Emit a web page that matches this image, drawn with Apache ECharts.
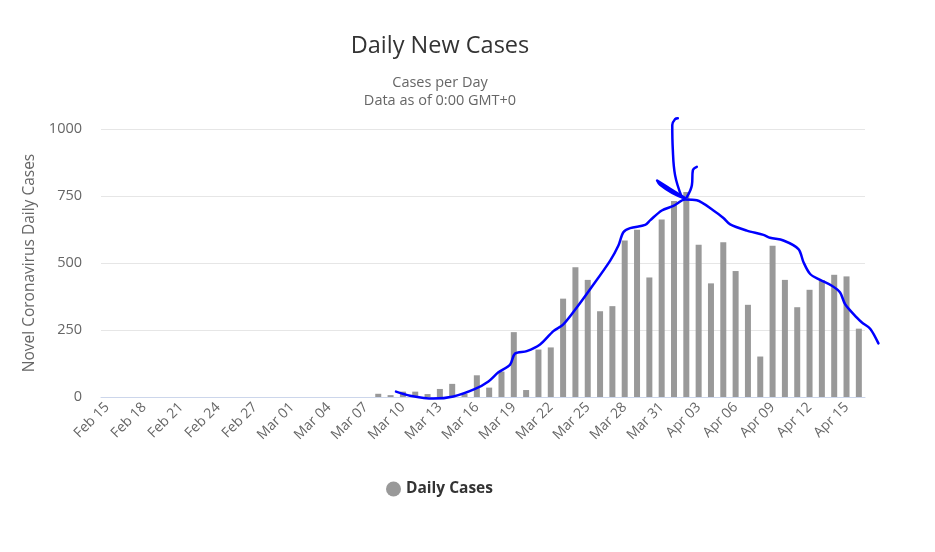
<!DOCTYPE html>
<html>
<head>
<meta charset="utf-8">
<script src="https://cdn.jsdelivr.net/npm/echarts@6/dist/echarts.min.js"></script>
<style>
  html, body { margin: 0; padding: 0; background: #fff; }
  #chart { width: 935px; height: 552px; }
</style>
</head>
<body>
<div id="chart"></div>
<script>
// days Feb 15 .. Apr 16
const days = [
  'Feb 15','Feb 16','Feb 17','Feb 18','Feb 19','Feb 20','Feb 21','Feb 22','Feb 23','Feb 24',
  'Feb 25','Feb 26','Feb 27','Feb 28','Feb 29','Mar 01','Mar 02','Mar 03','Mar 04','Mar 05',
  'Mar 06','Mar 07','Mar 08','Mar 09','Mar 10','Mar 11','Mar 12','Mar 13','Mar 14','Mar 15',
  'Mar 16','Mar 17','Mar 18','Mar 19','Mar 20','Mar 21','Mar 22','Mar 23','Mar 24','Mar 25',
  'Mar 26','Mar 27','Mar 28','Mar 29','Mar 30','Mar 31','Apr 01','Apr 02','Apr 03','Apr 04',
  'Apr 05','Apr 06','Apr 07','Apr 08','Apr 09','Apr 10','Apr 11','Apr 12','Apr 13','Apr 14',
  'Apr 15','Apr 16'
];
const dailyCases = [
  0, 0, 0, 0, 0, 0, 0, 0, 0, 0,
  0, 0, 0, 0, 0, 0, 0, 0, 0, 0,
  0, 0, 12, 7, 20, 20, 11, 30, 49, 12,
  81, 35, 95, 242, 26, 177, 185, 367, 484, 437,
  320, 339, 584, 624, 446, 662, 731, 765, 568, 424,
  577, 470, 344, 151, 564, 437, 335, 400, 436, 456,
  450, 255
];
const yTicks = [0, 250, 500, 750, 1000];

// hand drawn blue pen strokes, [day index, cases]
const penTrend = [
  [23.44, 20], [24.58, 5], [26.47, -6], [28.10, 2], [29.86, 30], [30.94, 58],
  [31.75, 92], [32.70, 121], [33.10, 162], [34.05, 171], [35.13, 196], [36.21, 246],
  [37.02, 271], [38.11, 334], [39.19, 402], [40.81, 508], [41.49, 565], [41.89, 615],
  [42.44, 630], [43.66, 642], [44.06, 659], [45.01, 696], [45.95, 713], [46.90, 737],
  [47.85, 734], [49.20, 696], [50.01, 668], [50.56, 644], [51.91, 621], [53.26, 605],
  [53.80, 594], [54.88, 584], [56.10, 552], [56.51, 503], [57.05, 459], [57.86, 437],
  [58.81, 415], [59.48, 390], [59.89, 346], [60.84, 296], [61.25, 278], [61.92, 255],
  [62.59, 200]
];
const penLoop = [
  [46.90, 742], [45.69, 777], [44.63, 808], [44.87, 792], [45.85, 762], [46.90, 740]
];
const penUp = [
  [46.63, 746], [46.09, 827], [45.90, 927], [45.86, 1015], [46.09, 1037], [46.31, 1040]
];
const penHook = [
  [47.04, 746], [47.45, 790], [47.53, 846], [47.85, 859]
];

const FONT = 'Open Sans';
const G_LEFT = 101, G_RIGHT = 70, PEN_RIGHT = 40;
const plotW = 935 - G_LEFT - G_RIGHT;
// pen layer grid is a bit wider so the stroke can run past the last bar
const penMax = -0.5 + days.length * (plotW + G_RIGHT - PEN_RIGHT) / plotW;

const chart = echarts.init(document.getElementById('chart'));

const pen = (data, smooth) => ({
  type: 'line',
  xAxisIndex: 1,
  yAxisIndex: 1,
  data: data,
  smooth: smooth,
  clip: false,
  symbol: 'none',
  silent: true,
  z: 5,
  lineStyle: { color: '#0000ff', width: 2.5, cap: 'round', join: 'round' }
});

chart.setOption({
  animation: false,
  textStyle: { fontFamily: FONT },
  title: [{
    text: 'Daily New Cases',
    left: 435, top: 29, textAlign: 'center',
    textStyle: { fontSize: 23.5, fontWeight: 'normal', color: '#333333', fontFamily: FONT }
  }, {
    text: 'Cases per Day\nData as of 0:00 GMT+0',
    left: 435, top: 69, textAlign: 'center',
    textStyle: { fontSize: 14.5, fontWeight: 'normal', color: '#666666', lineHeight: 18, fontFamily: FONT }
  }],
  legend: {
    data: ['Daily Cases'],
    left: 381, top: 476,
    icon: 'circle', itemWidth: 15, itemHeight: 15, itemGap: 8,
    textStyle: { fontSize: 15.5, fontWeight: 'bold', color: '#333333', fontFamily: FONT }
  },
  grid: [
    { left: G_LEFT, right: G_RIGHT, top: 129, bottom: 155, outerBoundsMode: 'none' },
    { left: G_LEFT, right: PEN_RIGHT, top: 129, bottom: 155, outerBoundsMode: 'none' }
  ],
  xAxis: [{
    type: 'category',
    gridIndex: 0,
    data: days,
    axisTick: { show: false },
    axisLine: { lineStyle: { color: '#ccd6eb', width: 1 } },
    axisLabel: {
      interval: 2, rotate: 45, fontSize: 14, color: '#666666', margin: 8, fontFamily: FONT
    }
  }, {
    type: 'value', gridIndex: 1, min: -0.5, max: penMax, show: false
  }],
  yAxis: [{
    type: 'value',
    gridIndex: 0,
    min: yTicks[0], max: yTicks[yTicks.length - 1], interval: 250,
    name: 'Novel Coronavirus Daily Cases',
    nameLocation: 'middle', nameGap: 60, nameRotate: 90,
    nameTextStyle: { fontSize: 15.5, color: '#666666', fontFamily: FONT },
    axisLabel: { fontSize: 14.5, color: '#666666', margin: 19, fontFamily: FONT, formatter: (v) => String(v) },
    splitLine: { lineStyle: { color: '#e6e6e6' } },
    axisLine: { show: false },
    axisTick: { show: false }
  }, {
    type: 'value', gridIndex: 1,
    min: yTicks[0], max: yTicks[yTicks.length - 1], show: false
  }],
  series: [{
    name: 'Daily Cases',
    type: 'bar',
    data: dailyCases,
    barWidth: 6,
    itemStyle: { color: '#999999' }
  },
  pen(penTrend, 0.3),
  pen(penLoop, 0.4),
  pen(penUp, 0.4),
  pen(penHook, 0.4)
  ]
});
</script>
</body>
</html>
